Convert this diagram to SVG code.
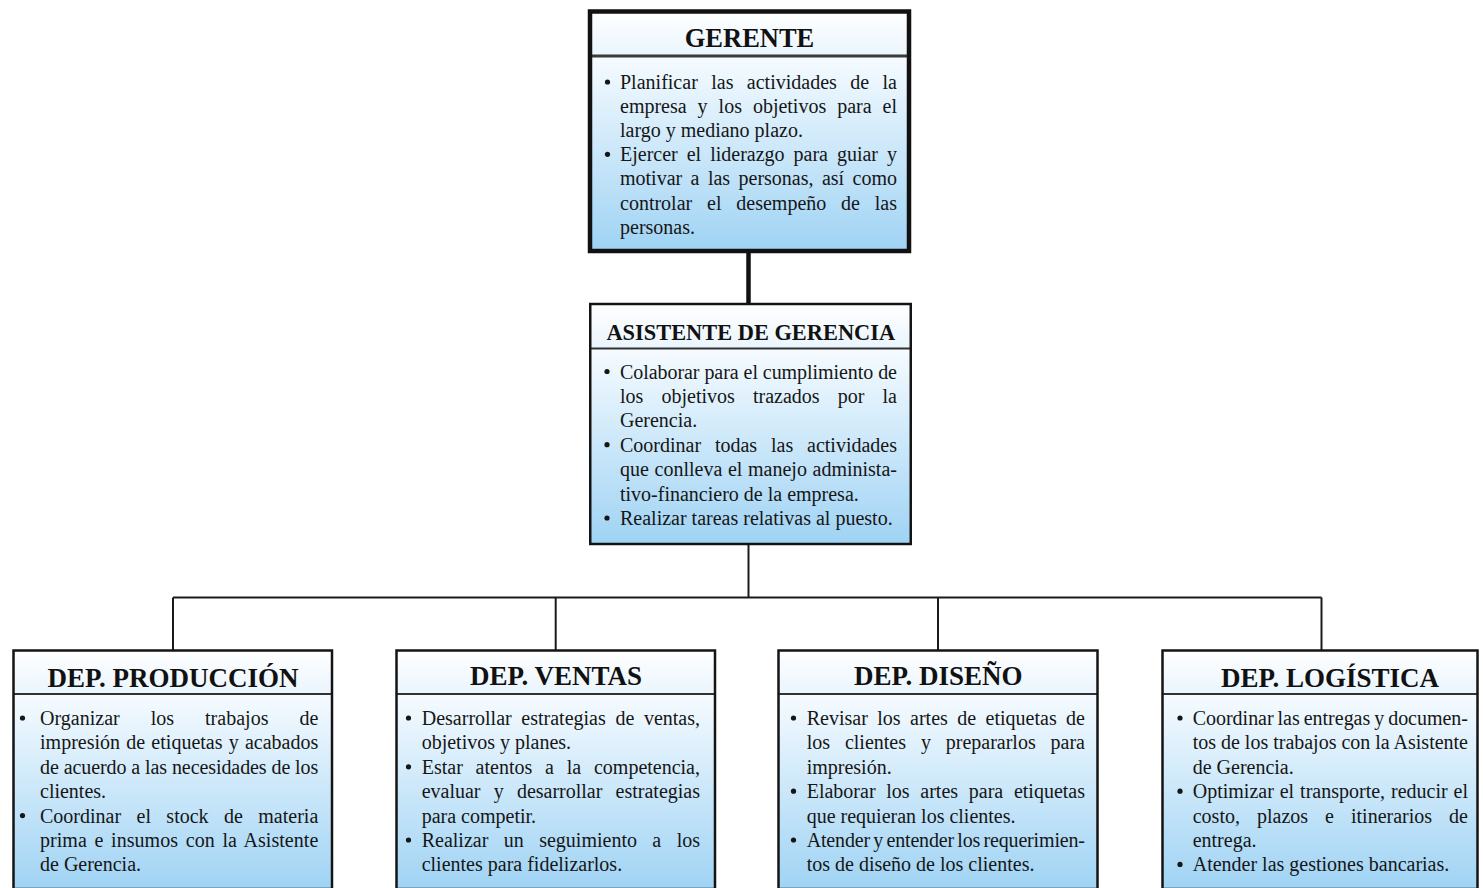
<svg xmlns="http://www.w3.org/2000/svg" width="1483" height="888" viewBox="0 0 1483 888">
  <defs>
    <linearGradient id="headFill" x1="0" y1="0" x2="0" y2="1">
      <stop offset="0" stop-color="#ffffff"/>
      <stop offset="1" stop-color="#eaf5fd"/>
    </linearGradient>
    <linearGradient id="bodyFill" x1="0" y1="0" x2="0" y2="1">
      <stop offset="0" stop-color="#f6fbff"/>
      <stop offset="1" stop-color="#9fd3f4"/>
    </linearGradient>
    <style>
      .head { fill: url(#headFill); }
      .body { fill: url(#bodyFill); }
      .frame { fill: none; stroke: #141414; stroke-width: 2.5; }
      .frame-main { fill: none; stroke: #111111; stroke-width: 4.5; }
      .rule { stroke: #333333; stroke-width: 2; }
      .rule-main { stroke: #3a3a3a; stroke-width: 3; }
      .title { font-family: "Liberation Serif", "Times New Roman", serif; font-weight: bold; font-size: 26.5px; fill: #111111; text-anchor: middle; }
      .title-dep { font-family: "Liberation Serif", "Times New Roman", serif; font-weight: bold; font-size: 27px; fill: #111111; text-anchor: middle; }
      .title-sm { font-family: "Liberation Serif", "Times New Roman", serif; font-weight: bold; font-size: 22.4px; fill: #111111; text-anchor: middle; }
      .t { font-family: "Liberation Serif", "Times New Roman", serif; font-size: 20px; fill: #161616; }
      .dot { fill: #161616; }
      .link { fill: none; stroke: #1a1a1a; stroke-width: 2; }
      .link-main { fill: none; stroke: #111111; stroke-width: 4.5; }
    </style>
  </defs>

  <rect x="0" y="0" width="1483" height="888" fill="#ffffff"/>

  <!-- connectors -->
  <g id="connectors">
    <path class="link-main" d="M748.5 252 V304"/>
    <path class="link" d="M748.5 544 V597.5"/>
    <path class="link" d="M173 597.5 H1321.5"/>
    <path class="link" d="M173 597.5 V650.5"/>
    <path class="link" d="M555.7 597.5 V650.5"/>
    <path class="link" d="M938 597.5 V650.5"/>
    <path class="link" d="M1321.5 597.5 V650.5"/>
  </g>

  <!-- GERENTE -->
  <g id="node-gerente">
    <rect class="head" x="590" y="11.5" width="319" height="44.5"/>
    <rect class="body" x="590" y="56" width="319" height="195"/>
    <line class="rule-main" x1="590" y1="56" x2="909" y2="56"/>
    <rect class="frame-main" x="590" y="11.5" width="319" height="239.5"/>
    <text class="title" x="749.5" y="47">GERENTE</text>
    <circle class="dot" cx="607.5" cy="82" r="2.6"/>
    <circle class="dot" cx="607.5" cy="154.3" r="2.6"/>
    <text class="t" x="620" y="89" textLength="277" lengthAdjust="spacing" word-spacing="8.4">Planificar las actividades de la</text>
    <text class="t" x="620" y="113.1" textLength="277" lengthAdjust="spacing" word-spacing="6">empresa y los objetivos para el</text>
    <text class="t" x="620" y="137.2">largo y mediano plazo.</text>
    <text class="t" x="620" y="161.3" textLength="277" lengthAdjust="spacing" word-spacing="4">Ejercer el liderazgo para guiar y</text>
    <text class="t" x="620" y="185.4" textLength="277" lengthAdjust="spacing" word-spacing="3.4">motivar a las personas, así como</text>
    <text class="t" x="620" y="209.5" textLength="277" lengthAdjust="spacing" word-spacing="9.8">controlar el desempeño de las</text>
    <text class="t" x="620" y="233.6">personas.</text>
  </g>

  <!-- ASISTENTE DE GERENCIA -->
  <g id="node-asistente">
    <rect class="head" x="590.25" y="304" width="320.5" height="44.5"/>
    <rect class="body" x="590.25" y="348.5" width="320.5" height="195.5"/>
    <line class="rule" x1="590.25" y1="348.5" x2="910.75" y2="348.5"/>
    <rect class="frame" x="590.25" y="304" width="320.5" height="240"/>
    <text class="title-sm" x="750.8" y="340">ASISTENTE DE GERENCIA</text>
    <circle class="dot" cx="607" cy="371.5" r="2.6"/>
    <circle class="dot" cx="607" cy="444.7" r="2.6"/>
    <circle class="dot" cx="607" cy="518" r="2.6"/>
    <text class="t" x="620" y="378.5" textLength="277" lengthAdjust="spacing">Colaborar para el cumplimiento de</text>
    <text class="t" x="620" y="402.9" textLength="277" lengthAdjust="spacing" word-spacing="13.1">los objetivos trazados por la</text>
    <text class="t" x="620" y="427.3">Gerencia.</text>
    <text class="t" x="620" y="451.7" textLength="277" lengthAdjust="spacing" word-spacing="8.8">Coordinar todas las actividades</text>
    <text class="t" x="620" y="476.1" textLength="277" lengthAdjust="spacing" word-spacing="0.6">que conlleva el manejo administa-</text>
    <text class="t" x="620" y="500.5">tivo-financiero de la empresa.</text>
    <text class="t" x="620" y="525">Realizar tareas relativas al puesto.</text>
  </g>

  <!-- DEP. PRODUCCIÓN -->
  <g id="node-produccion">
    <rect class="head" x="13.5" y="650.5" width="318.5" height="43.5"/>
    <rect class="body" x="13.5" y="694" width="318.5" height="195"/>
    <line class="rule" x1="13.5" y1="694" x2="332" y2="694"/>
    <rect class="frame" x="13.5" y="650.5" width="318.5" height="238.5"/>
    <text class="title-dep" x="173" y="687">DEP. PRODUCCIÓN</text>
    <circle class="dot" cx="22.5" cy="718" r="2.6"/>
    <circle class="dot" cx="22.5" cy="815.6" r="2.6"/>
    <text class="t" x="40" y="725" textLength="278.3" lengthAdjust="spacing" word-spacing="25.9">Organizar los trabajos de</text>
    <text class="t" x="40" y="749.4" textLength="278.3" lengthAdjust="spacing" word-spacing="1.2">impresión de etiquetas y acabados</text>
    <text class="t" x="40" y="773.8" textLength="278.3" lengthAdjust="spacing">de acuerdo a las necesidades de los</text>
    <text class="t" x="40" y="798.2">clientes.</text>
    <text class="t" x="40" y="822.6" textLength="278.3" lengthAdjust="spacing" word-spacing="10.4">Coordinar el stock de materia</text>
    <text class="t" x="40" y="847" textLength="278.3" lengthAdjust="spacing" word-spacing="2.6">prima e insumos con la Asistente</text>
    <text class="t" x="40" y="871.4">de Gerencia.</text>
  </g>

  <!-- DEP. VENTAS -->
  <g id="node-ventas">
    <rect class="head" x="396.5" y="650.5" width="318.5" height="43.5"/>
    <rect class="body" x="396.5" y="694" width="318.5" height="195"/>
    <line class="rule" x1="396.5" y1="694" x2="715" y2="694"/>
    <rect class="frame" x="396.5" y="650.5" width="318.5" height="238.5"/>
    <text class="title-dep" x="556" y="684.5">DEP. VENTAS</text>
    <circle class="dot" cx="408.5" cy="718" r="2.6"/>
    <circle class="dot" cx="408.5" cy="766.8" r="2.6"/>
    <circle class="dot" cx="408.5" cy="840" r="2.6"/>
    <text class="t" x="421.7" y="725" textLength="278.3" lengthAdjust="spacing" word-spacing="4.6">Desarrollar estrategias de ventas,</text>
    <text class="t" x="421.7" y="749.4">objetivos y planes.</text>
    <text class="t" x="421.7" y="773.8" textLength="278.3" lengthAdjust="spacing" word-spacing="7.8">Estar atentos a la competencia,</text>
    <text class="t" x="421.7" y="798.2" textLength="278.3" lengthAdjust="spacing" word-spacing="8.2">evaluar y desarrollar estrategias</text>
    <text class="t" x="421.7" y="822.6">para competir.</text>
    <text class="t" x="421.7" y="847" textLength="278.3" lengthAdjust="spacing" word-spacing="10.4">Realizar un seguimiento a los</text>
    <text class="t" x="421.7" y="871.4">clientes para fidelizarlos.</text>
  </g>

  <!-- DEP. DISEÑO -->
  <g id="node-diseno">
    <rect class="head" x="778.5" y="650.5" width="319" height="43.5"/>
    <rect class="body" x="778.5" y="694" width="319" height="195"/>
    <line class="rule" x1="778.5" y1="694" x2="1097.5" y2="694"/>
    <rect class="frame" x="778.5" y="650.5" width="319" height="238.5"/>
    <text class="title-dep" x="938.3" y="685">DEP. DISEÑO</text>
    <circle class="dot" cx="793.5" cy="718" r="2.6"/>
    <circle class="dot" cx="793.5" cy="791.2" r="2.6"/>
    <circle class="dot" cx="793.5" cy="840" r="2.6"/>
    <text class="t" x="806.7" y="725" textLength="278.3" lengthAdjust="spacing" word-spacing="4.4">Revisar los artes de etiquetas de</text>
    <text class="t" x="806.7" y="749.4" textLength="278.3" lengthAdjust="spacing" word-spacing="9.9">los clientes y prepararlos para</text>
    <text class="t" x="806.7" y="773.8">impresión.</text>
    <text class="t" x="806.7" y="798.2" textLength="278.3" lengthAdjust="spacing" word-spacing="5.7">Elaborar los artes para etiquetas</text>
    <text class="t" x="806.7" y="822.6">que requieran los clientes.</text>
    <text class="t" x="806.7" y="847" textLength="278.3" lengthAdjust="spacing" word-spacing="-1.5">Atender y entender los requerimien-</text>
    <text class="t" x="806.7" y="871.4">tos de diseño de los clientes.</text>
  </g>

  <!-- DEP. LOGÍSTICA -->
  <g id="node-logistica">
    <rect class="head" x="1162.5" y="650.5" width="315" height="43.5"/>
    <rect class="body" x="1162.5" y="694" width="315" height="195"/>
    <line class="rule" x1="1162.5" y1="694" x2="1477.5" y2="694"/>
    <rect class="frame" x="1162.5" y="650.5" width="315" height="238.5"/>
    <text class="title-dep" x="1330" y="687">DEP. LOGÍSTICA</text>
    <circle class="dot" cx="1180" cy="718" r="2.6"/>
    <circle class="dot" cx="1180" cy="791.2" r="2.6"/>
    <circle class="dot" cx="1180" cy="864.4" r="2.6"/>
    <text class="t" x="1192.7" y="725" textLength="275.3" lengthAdjust="spacing" word-spacing="-1">Coordinar las entregas y documen-</text>
    <text class="t" x="1192.7" y="749.4" textLength="275.3" lengthAdjust="spacing">tos de los trabajos con la Asistente</text>
    <text class="t" x="1192.7" y="773.8">de Gerencia.</text>
    <text class="t" x="1192.7" y="798.2" textLength="275.3" lengthAdjust="spacing" word-spacing="0.9">Optimizar el transporte, reducir el</text>
    <text class="t" x="1192.7" y="822.6" textLength="275.3" lengthAdjust="spacing" word-spacing="12">costo, plazos e itinerarios de</text>
    <text class="t" x="1192.7" y="847">entrega.</text>
    <text class="t" x="1192.7" y="871.4">Atender las gestiones bancarias.</text>
  </g>
</svg>
